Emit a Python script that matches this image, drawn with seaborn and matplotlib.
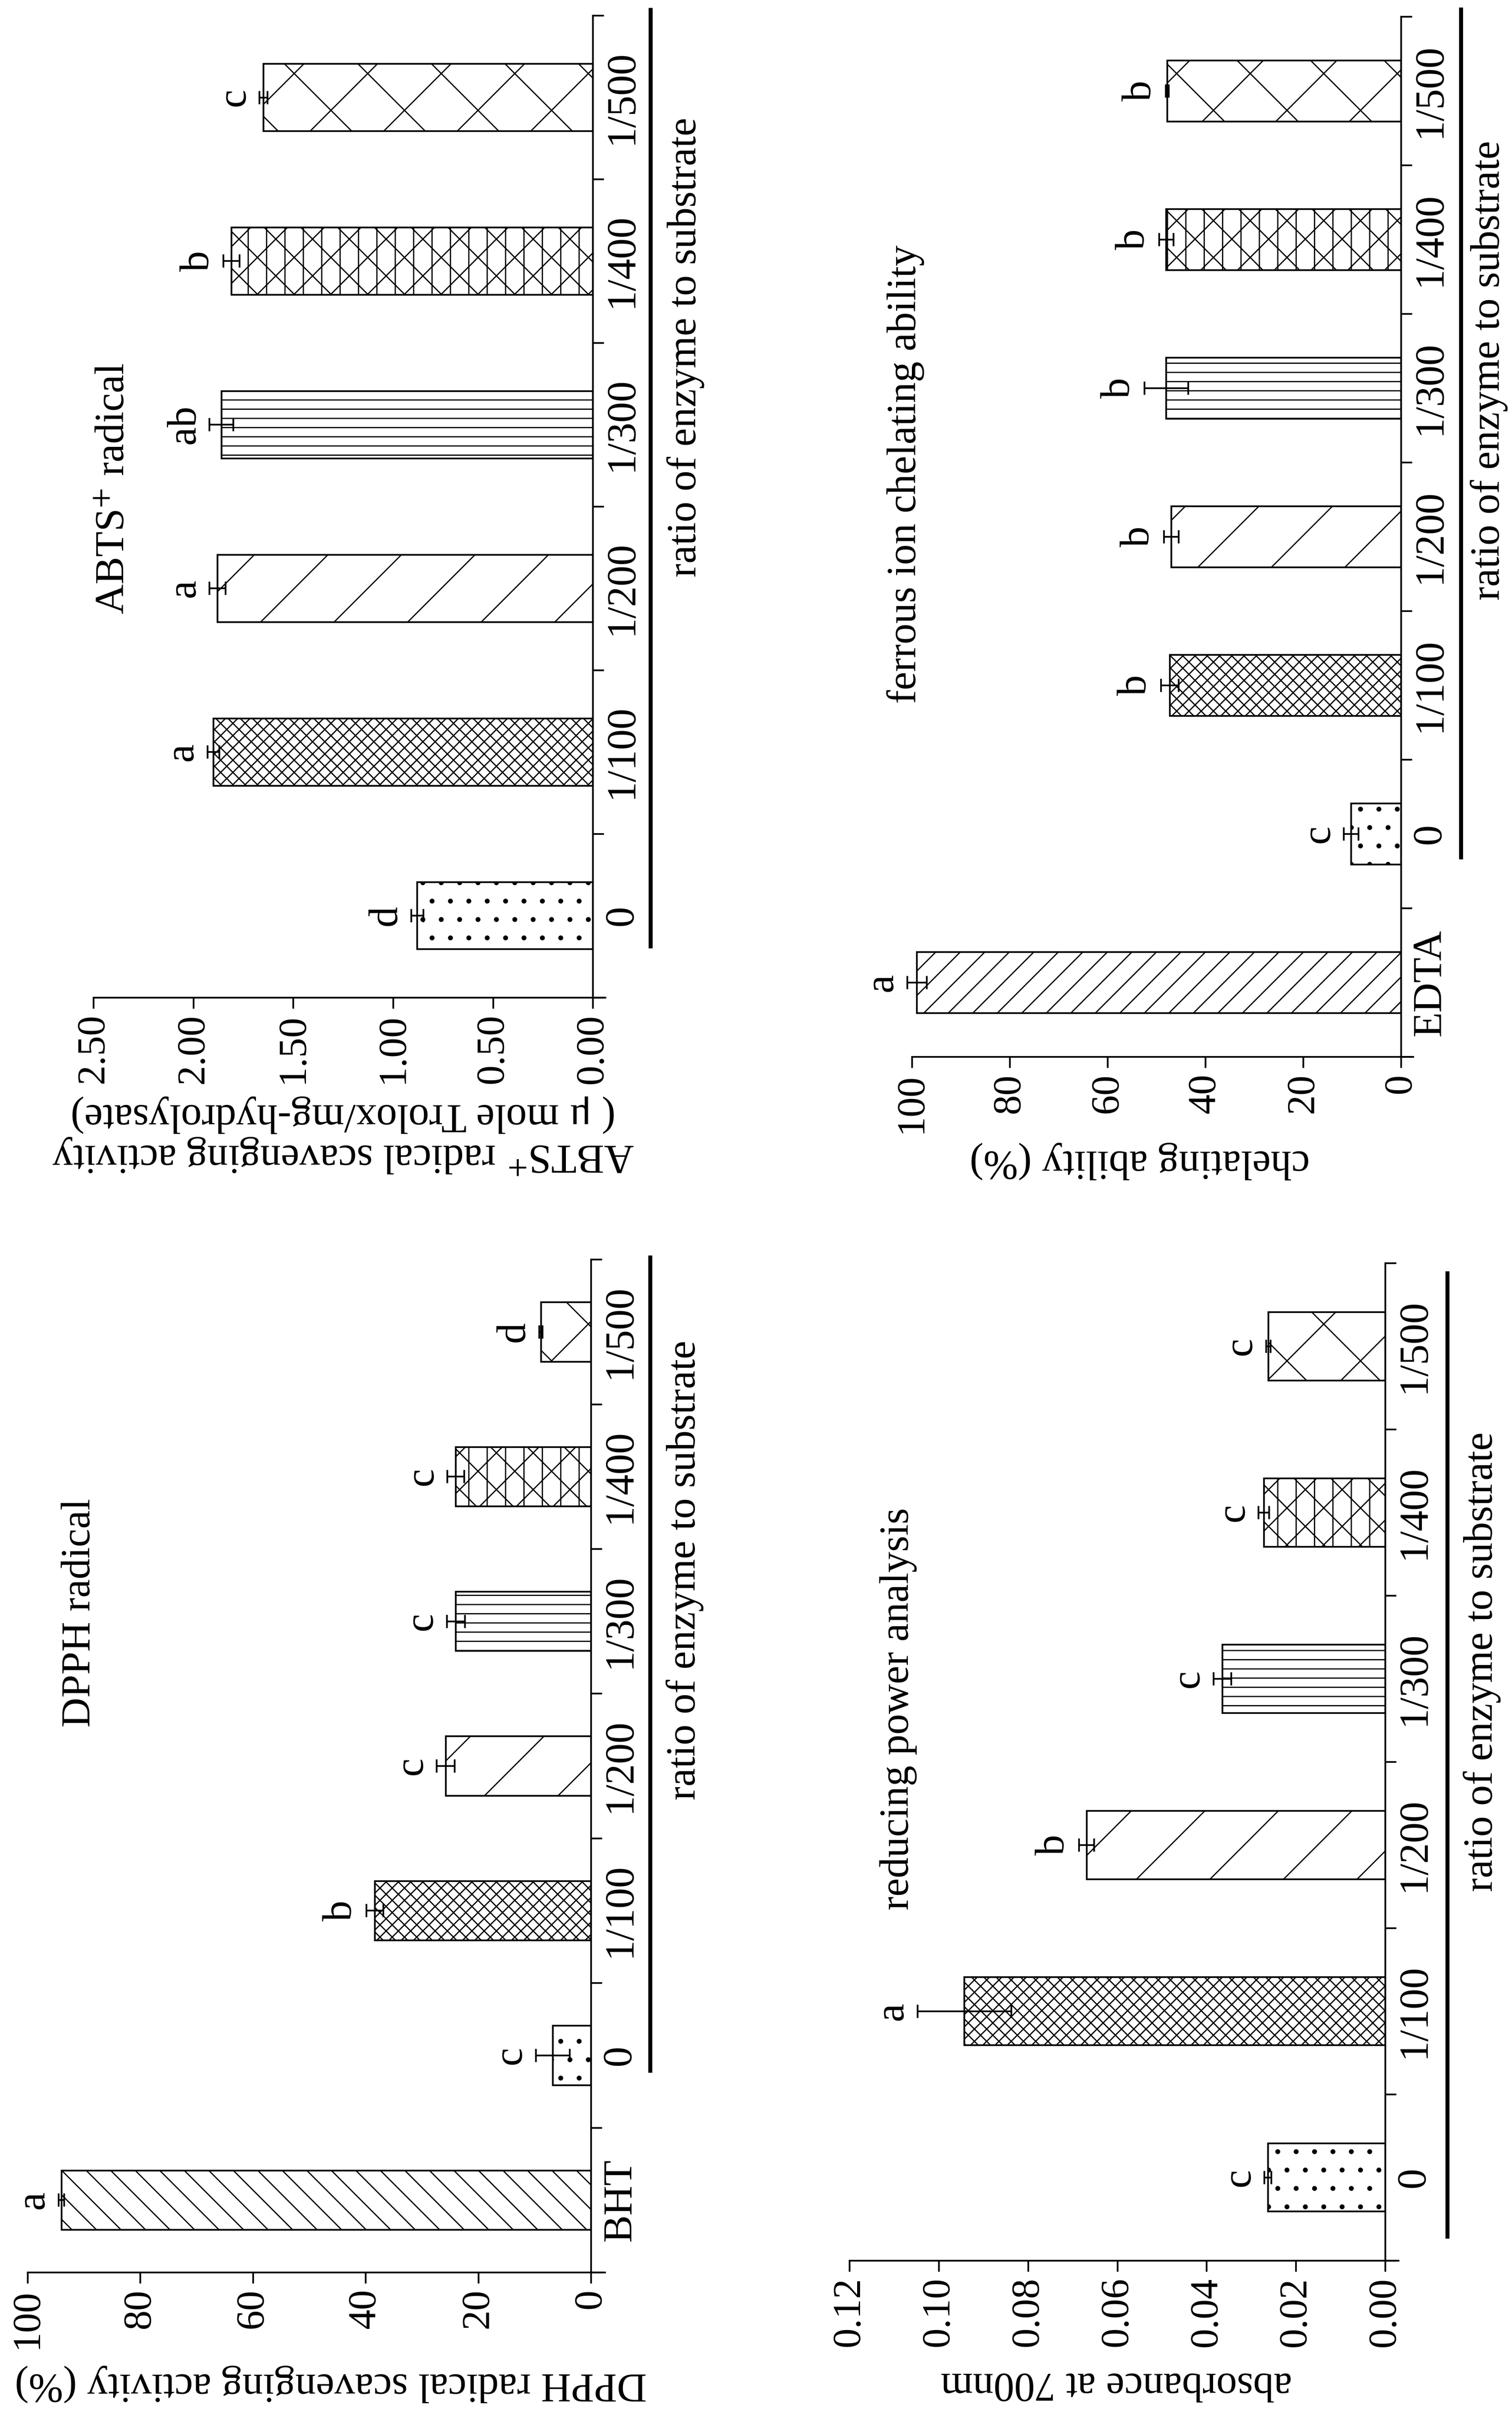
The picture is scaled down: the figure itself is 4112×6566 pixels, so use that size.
import numpy as np
import pandas as pd
import matplotlib
matplotlib.use("Agg")
import matplotlib.pyplot as plt
import seaborn as sns

# ---------------- data ----------------
dpph_cats = ["BHT", "0", "1/100", "1/200", "1/300", "1/400", "1/500"]
dpph_vals = [94.0, 6.8, 38.4, 25.8, 24.0, 24.0, 8.9]
dpph_errs = [0.5, 3.0, 1.5, 1.6, 1.6, 1.5, 0.3]
dpph_letters = ["a", "c", "b", "c", "c", "c", "d"]

abts_cats = ["0", "1/100", "1/200", "1/300", "1/400", "1/500"]
abts_vals = [0.88, 1.90, 1.88, 1.86, 1.81, 1.65]
abts_errs = [0.03, 0.03, 0.04, 0.06, 0.04, 0.02]
abts_letters = ["d", "a", "a", "ab", "b", "c"]

red_cats = ["0", "1/100", "1/200", "1/300", "1/400", "1/500"]
red_vals = [0.0263, 0.0943, 0.0669, 0.0365, 0.0272, 0.0262]
red_errs = [0.0008, 0.0105, 0.0017, 0.0020, 0.0012, 0.0005]
red_letters = ["c", "a", "b", "c", "c", "c"]

fer_cats = ["EDTA", "0", "1/100", "1/200", "1/300", "1/400", "1/500"]
fer_vals = [99.0, 10.2, 47.3, 47.0, 48.0, 48.0, 47.8]
fer_errs = [2.0, 1.5, 1.8, 1.5, 4.5, 1.5, 0.3]
fer_letters = ["a", "c", "b", "b", "b", "b", "b"]

HATCH = {"BHT": "\\\\\\", "EDTA": "///", "0": "..", "1/100": "xxxxxx",
         "1/200": "/", "1/300": "----", "1/400": "xx||", "1/500": "x"}

# ---------------- style ----------------
sns.set_style("white")
plt.rcParams["font.family"] = ["Liberation Serif", "DejaVu Serif"]
plt.rcParams["mathtext.fontset"] = "stix"
plt.rcParams["axes.edgecolor"] = "black"
plt.rcParams["text.color"] = "black"
plt.rcParams["axes.labelcolor"] = "black"
plt.rcParams["xtick.color"] = "black"
plt.rcParams["ytick.color"] = "black"
plt.rcParams["hatch.linewidth"] = 0.4
plt.rcParams["axes.linewidth"] = 0.55

DPI = 600
FS = 13.5
FS_T = 13.0

fig = plt.figure(figsize=(4112 / DPI, 6566 / DPI), dpi=DPI)
fig.patch.set_facecolor("white")


def panel(rect, cats, vals, errs, letters, vmax, ticks, ticklabels,
          vlabel, vlabel_xy, title, title_xy, xlab_xy, line_x, line_y):
    ax = fig.add_axes(rect)
    n = len(cats)
    order = cats[::-1]
    df = pd.DataFrame({"group": cats, "value": vals})
    sns.barplot(data=df, x="value", y="group", order=order, orient="h",
                color="white", edgecolor="black", linewidth=0.55, width=0.41,
                errorbar=None, saturation=1, ax=ax)
    for p in ax.patches:
        idx = int(round(p.get_y() + p.get_height() / 2))
        p.set_hatch(HATCH[order[idx]])
        p.set_facecolor("white")
        p.set_edgecolor("black")
    pos = [n - 1 - i for i in range(n)]
    eb = ax.errorbar(vals, pos, xerr=errs, fmt="none", ecolor="black",
                     elinewidth=0.55, capsize=2.2, capthick=0.55, zorder=4)
    for art in eb.lines[1] + eb.lines[2]:
        art.set_clip_on(False)
    for v, e, y, l in zip(vals, errs, pos, letters):
        ax.annotate(l, xy=(v + e, y), xytext=(-2.0, 0), textcoords="offset points",
                    rotation=90, ha="right", va="center", fontsize=FS,
                    annotation_clip=False)

    ax.set_xlim(vmax, 0)
    ax.set_ylim(n - 0.5, -0.5)
    ax.set_facecolor("white")
    ax.grid(False)
    for s in ("left", "top"):
        ax.spines[s].set_visible(False)
    ax.spines["right"].set_visible(True)
    ax.spines["bottom"].set_visible(True)
    ax.spines["bottom"].set_bounds(-0.025 * vmax, vmax)

    # category axis (right side)
    ax.yaxis.tick_right()
    ax.set_yticks(np.arange(-0.5, n, 1.0))
    ax.set_yticklabels([])
    ax.set_yticks(range(n), minor=True)
    ax.set_yticklabels(order, minor=True, rotation=90, fontsize=FS, va="center", ha="left")
    ax.tick_params(axis="y", which="major", direction="out", length=3.6, width=0.55,
                   right=True, left=False)
    ax.tick_params(axis="y", which="minor", length=0, pad=3.5, right=True, left=False,
                   labelright=True, labelleft=False)

    # value axis (bottom)
    ax.set_xticks(ticks)
    ax.set_xticklabels(ticklabels, rotation=90, fontsize=FS_T)
    ax.tick_params(axis="x", which="major", direction="out", length=3.6, width=0.55,
                   pad=1.8, bottom=True, top=False)
    ax.tick_params(axis="x", which="minor", bottom=False)

    ax.set_xlabel(vlabel, fontsize=FS, rotation=180, linespacing=1.05)
    ax.xaxis.set_label_coords(*vlabel_xy)
    ax.xaxis.label.set_va("center")
    ax.xaxis.label.set_ha("center")

    ax.set_ylabel("ratio of enzyme to substrate", fontsize=FS, rotation=90)
    ax.yaxis.set_label_position("right")
    ax.yaxis.set_label_coords(*xlab_xy)
    ax.yaxis.label.set_va("center")
    ax.yaxis.label.set_ha("center")

    ax.text(title_xy[0], title_xy[1], title, transform=ax.transAxes, rotation=90,
            ha="center", va="center", fontsize=FS)
    ax.plot([line_x, line_x], list(line_y), transform=ax.transAxes, color="black",
            lw=1.3, clip_on=False, solid_capstyle="butt")
    return ax


# ABTS (upper left of the page)
panel([0.0618, 0.5870, 0.3303, 0.4066], abts_cats, abts_vals, abts_errs, abts_letters,
      2.5, [0, 0.5, 1.0, 1.5, 2.0, 2.5], ["0.00", "0.50", "1.00", "1.50", "2.00", "2.50"],
      "ABTS$^{+}$ radical scavenging activity\n( \u03bc mole Trolox/mg-hydrolysate)",
      (0.50, -0.141), "ABTS$^{+}$ radical", (0.041, 0.518), (1.186, 0.662),
      1.1156, (0.05, 1.008))

# ferrous ion chelating (upper right)
panel([0.6031, 0.5624, 0.3234, 0.4307], fer_cats, fer_vals, fer_errs, fer_letters,
      100, [0, 20, 40, 60, 80, 100], ["0", "20", "40", "60", "80", "100"],
      "chelating ability (%)", (0.466, -0.100), "ferrous ion chelating ability",
      (-0.013, 0.56), (1.180, 0.66), 1.1226, (0.19, 1.009))

# DPPH (lower left)
panel([0.0182, 0.0591, 0.3726, 0.4194], dpph_cats, dpph_vals, dpph_errs, dpph_letters,
      100, [0, 20, 40, 60, 80, 100], ["0", "20", "40", "60", "80", "100"],
      "DPPH radical scavenging activity (%)", (0.5385, -0.110), "DPPH radical",
      (0.093, 0.651), (1.167, 0.693), 1.105, (0.197, 1.004))

# reducing power (lower right)
panel([0.5618, 0.0640, 0.3543, 0.4130], red_cats, red_vals, red_errs, red_letters,
      0.12, [0, 0.02, 0.04, 0.06, 0.08, 0.10, 0.12],
      ["0.00", "0.02", "0.04", "0.06", "0.08", "0.10", "0.12"],
      "absorbance at 700nm", (0.498, -0.123), "reducing power analysis",
      (0.091, 0.553), (1.181, 0.60), 1.116, (0.022, 0.992))

fig.savefig("out.png", dpi=DPI, facecolor="white")
